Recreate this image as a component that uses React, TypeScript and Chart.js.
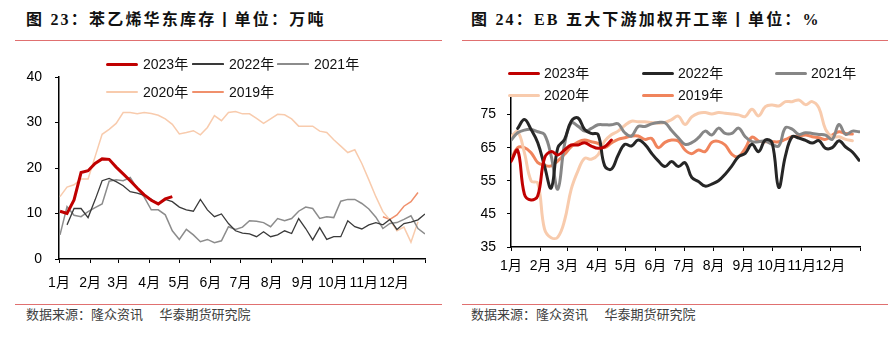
import React, { useEffect, useRef } from 'react';
import { Chart, registerables } from 'chart.js';

Chart.register(...registerables);

const FONT = '"Liberation Sans", "Noto Sans CJK SC", sans-serif';
const TITLE_FONT = '"Liberation Serif", "Noto Sans CJK SC", serif';

// ---------- shared axis data ----------
const monthLabels = ['1月', '2月', '3月', '4月', '5月', '6月', '7月', '8月', '9月', '10月', '11月', '12月'];
const monthStartDays = [0, 31, 59, 90, 120, 151, 181, 212, 243, 273, 304, 334, 365];
const yearLabels = ['2023年', '2022年', '2021年', '2020年', '2019年'];
const weekStep = 7;

// ---------- chart 23: 苯乙烯华东库存 (万吨), weekly ----------
const invTicks = [0, 10, 20, 30, 40];
const inv2023Start = 1;
const inv2023 = [10.5, 10.0, 13.0, 19.0, 19.4, 21.0, 22.0, 21.9, 20.2, 18.7, 17.2, 15.6, 14.1, 12.9, 12.1, 13.2, 13.7];
const inv2022Start = 8;
const inv2022 = [
  7.5, 11.1, 11.1, 9.1, 13.0, 17.2, 17.7, 17.0, 16.1, 14.8, 14.5, 14.0, 13.1, 12.1, 13.1, 12.6, 11.4, 10.8,
  10.5, 13.1, 10.8, 9.3, 9.9, 7.8, 6.2, 5.7, 5.5, 4.9, 6.0, 4.9, 5.3, 6.2, 5.6, 8.9, 6.7, 4.2, 6.9, 4.3,
  4.9, 4.9, 8.4, 7.1, 6.6, 7.5, 8.0, 7.5, 8.7, 6.5, 7.8, 8.1, 8.6, 9.9,
];
const inv2021Start = 1;
const inv2021 = [
  5.3, 11.5, 9.6, 9.3, 10.4, 11.3, 12.1, 17.1, 17.4, 17.2, 17.9, 15.5, 13.6, 10.8, 10.8, 9.7, 6.2, 4.3,
  6.5, 5.3, 3.8, 4.3, 3.6, 4.0, 7.1, 6.5, 7.0, 8.4, 8.3, 8.0, 7.1, 8.9, 8.4, 8.9, 10.5, 11.4, 11.1, 8.9,
  9.3, 9.1, 12.7, 13.1, 13.1, 12.2, 11.0, 9.2, 6.7, 7.8, 8.0, 8.7, 9.5, 6.7, 5.5,
];
const inv2020Start = 1;
const inv2020 = [
  13.7, 15.8, 16.3, 17.6, 17.6, 22.5, 27.4, 28.5, 29.8, 32.2, 32.2, 31.9, 32.2, 32.0, 31.6, 30.8, 29.6, 27.5,
  27.8, 28.2, 27.3, 28.9, 31.5, 30.4, 32.2, 32.4, 31.9, 31.9, 30.9, 29.8, 30.8, 31.8, 31.7, 30.8, 29.2, 29.2,
  29.2, 28.1, 27.8, 26.2, 24.8, 23.4, 24.0, 21.0, 17.4, 13.7, 10.4, 8.6, 6.2, 7.0, 3.7, 8.2,
];
const inv2019Start = 323;
const inv2019 = [9.3, 8.7, 9.7, 11.6, 12.6, 14.6];

// ---------- chart 24: EB 五大下游加权开工率 (%), weekly ----------
const rateTicks = [35, 45, 55, 65, 75];
const rate2023Start = 0;
const rate2023 = [60.8, 64.2, 51.0, 49.2, 50.5, 61.8, 63.8, 62.8, 64.3, 65.8, 65.8, 66.5, 65.5, 64.8, 65.3, 67.3];
const rate2022Start = 7;
const rate2022 = [
  70.8, 73.5, 70.5, 66.5, 59.5, 52.8, 65.0, 67.5, 73.0, 74.0, 70.5, 69.3, 69.0, 59.5, 58.5, 62.7, 66.0, 65.5,
  67.3, 66.0, 63.3, 61.0, 59.3, 60.8, 59.3, 60.5, 56.0, 54.8, 53.4, 54.0, 55.0, 57.0, 59.5, 62.3, 63.3, 66.0,
  63.8, 67.3, 66.5, 53.0, 62.5, 68.3, 67.9, 67.2, 66.4, 67.1, 64.8, 65.0, 67.1, 65.2, 63.7, 61.2,
];
const rate2021Start = 0;
const rate2021 = [
  67.2, 69.5, 70.3, 70.5, 69.8, 69.0, 62.5, 52.5, 66.0, 72.5, 71.5, 70.0, 70.8, 71.9, 71.9, 71.9, 72.2, 69.5,
  68.5, 71.4, 71.4, 72.2, 72.6, 72.5, 70.2, 68.0, 66.0, 66.5, 68.0, 70.0, 68.8, 70.9, 69.3, 69.3, 70.9, 68.3,
  66.8, 66.8, 67.0, 66.0, 65.5, 71.0, 70.6, 69.0, 69.5, 69.3, 69.0, 68.8, 67.5, 72.0, 69.0, 70.0, 69.8,
];
const rate2020Start = 0;
const rate2020 = [
  68.3, 69.8, 63.5, 55.0, 54.3, 40.5, 37.8, 38.0, 43.0, 52.5, 58.0, 61.8, 61.5, 62.8, 67.0, 68.9, 70.0, 71.7,
  73.0, 72.8, 72.8, 72.6, 72.4, 72.6, 73.5, 74.5, 72.0, 74.3, 75.4, 75.6, 75.2, 75.6, 75.4, 75.2, 74.9, 74.4,
  76.6, 74.6, 77.4, 77.9, 77.6, 78.9, 78.9, 79.4, 78.0, 78.9, 77.0, 70.5, 68.3, 68.3, 67.5, 67.1,
];
const rate2019Start = 0;
const rate2019 = [
  61.3, 65.0, 65.0, 63.5, 60.5, 59.7, 59.5, 61.0, 63.0, 65.3, 66.7, 67.3, 66.8, 66.3, 65.0, 66.4, 67.5, 68.0,
  68.5, 68.5, 67.5, 67.8, 65.0, 66.6, 67.3, 67.0, 64.3, 63.2, 64.3, 63.8, 66.6, 66.9, 65.8, 63.0, 62.3, 64.8,
  68.2, 67.0, 66.8, 66.8, 66.8, 67.5, 68.3, 68.5, 68.8, 68.3, 68.0, 67.5, 68.8, 69.8, 69.3, 69.1,
];

// ---------- styling ----------
const leftColors = ['#c00000', '#3a3a3a', '#8c8c8c', '#f8cbad', '#f0906c'];
const leftWidths = [3, 1.3, 1.5, 1.5, 1.5];
const rightColors = ['#c00000', '#262626', '#868686', '#f8cbad', '#f0845c'];
const rightWidths = [3, 3, 3, 3, 3];

const toPoints = (start: number, values: number[]) => values.map((v, i) => ({ x: start + i * weekStep, y: v }));

function makeOptions(o: {
  yMin: number; yMax: number; yTicks: number[]; yWidth: number; xHeight: number;
  pad: { top: number; right: number }; yPad: number; xPad: number; fontSize: number;
}) {
  return {
    responsive: false,
    animation: false as const,
    events: [] as any[],
    layout: { padding: { left: 0, top: o.pad.top, right: o.pad.right, bottom: 0 } },
    plugins: { legend: { display: false }, tooltip: { enabled: false } },
    elements: { point: { radius: 0 } },
    scales: {
      x: {
        type: 'linear' as const,
        min: 0,
        max: 365,
        afterBuildTicks: (s: any) => { s.ticks = monthStartDays.map((v) => ({ value: v })); },
        afterFit: (s: any) => { s.height = o.xHeight; },
        ticks: {
          autoSkip: false, maxRotation: 0, minRotation: 0, padding: o.xPad, color: '#000',
          font: { size: o.fontSize, family: FONT },
          callback: (_v: any, i: number) => monthLabels[i] ?? '',
        },
        grid: { drawOnChartArea: false, drawTicks: true, tickLength: 4, color: '#000', lineWidth: 1 },
        border: { display: true, color: '#000', width: 1.5 },
      },
      y: {
        type: 'linear' as const,
        min: o.yMin,
        max: o.yMax,
        afterBuildTicks: (s: any) => { s.ticks = o.yTicks.map((v) => ({ value: v })); },
        afterFit: (s: any) => { s.width = o.yWidth; },
        ticks: { padding: o.yPad, color: '#000', font: { size: o.fontSize, family: FONT } },
        grid: { drawOnChartArea: false, drawTicks: true, tickLength: 4, color: '#000', lineWidth: 1 },
        border: { display: true, color: '#000', width: 1.5 },
      },
    },
  };
}

function InventoryChart() {
  const ref = useRef<HTMLCanvasElement>(null);
  useEffect(() => {
    const series = [
      toPoints(inv2023Start, inv2023),
      toPoints(inv2022Start, inv2022),
      toPoints(inv2021Start, inv2021),
      toPoints(inv2020Start, inv2020),
      toPoints(inv2019Start, inv2019),
    ];
    const chart = new Chart(ref.current!, {
      type: 'line',
      data: {
        datasets: series.map((d, i) => ({
          label: yearLabels[i], data: d, borderColor: leftColors[i], backgroundColor: leftColors[i],
          borderWidth: leftWidths[i], tension: 0, pointRadius: 0, fill: false,
        })),
      },
      options: makeOptions({
        yMin: 0, yMax: 40, yTicks: invTicks, yWidth: 59, xHeight: 41,
        pad: { top: 22, right: 20 }, yPad: 13, xPad: 12, fontSize: 14,
      }) as any,
    });
    return () => chart.destroy();
  }, []);
  return <canvas ref={ref} width={445} height={245} style={{ position: 'absolute', left: 0, top: 55, width: 445, height: 245 }} />;
}

function RateChart() {
  const ref = useRef<HTMLCanvasElement>(null);
  useEffect(() => {
    const series = [
      toPoints(rate2023Start, rate2023),
      toPoints(rate2022Start, rate2022),
      toPoints(rate2021Start, rate2021),
      toPoints(rate2020Start, rate2020),
      toPoints(rate2019Start, rate2019),
    ];
    const chart = new Chart(ref.current!, {
      type: 'line',
      data: {
        datasets: series.map((d, i) => ({
          label: yearLabels[i], data: d, borderColor: rightColors[i], backgroundColor: rightColors[i],
          borderWidth: rightWidths[i], tension: 0.4, pointRadius: 0, fill: false,
          borderCapStyle: 'round' as const, borderJoinStyle: 'round' as const,
        })),
      },
      options: makeOptions({
        yMin: 35, yMax: 80, yTicks: rateTicks, yWidth: 66, xHeight: 53,
        pad: { top: 43, right: 33 }, yPad: 11, xPad: 7, fontSize: 14,
      }) as any,
    });
    return () => chart.destroy();
  }, []);
  return <canvas ref={ref} width={448} height={245} style={{ position: 'absolute', left: 445, top: 55, width: 448, height: 245 }} />;
}

function Legend(props: { cols: number[]; rows: number[]; colors: string[]; widths: number[]; lineLen: number; gap: number }) {
  const items = yearLabels.map((label, i) => {
    const col = i % 3;
    const row = Math.floor(i / 3);
    const x = props.cols[col];
    const y = props.rows[row];
    const w = props.widths[i];
    return (
      <React.Fragment key={label}>
        <div style={{ position: 'absolute', left: x, top: y - w / 2, width: props.lineLen, height: w, background: props.colors[i], borderRadius: w / 2 }} />
        <div style={{ position: 'absolute', left: x + props.lineLen + props.gap, top: y - 9, height: 18, lineHeight: '18px', fontSize: 14, fontFamily: FONT, color: '#111', whiteSpace: 'nowrap' }}>{label}</div>
      </React.Fragment>
    );
  });
  return <>{items}</>;
}

const titleStyle: React.CSSProperties = {
  position: 'absolute', top: 9, fontFamily: TITLE_FONT, fontWeight: 'bold', fontSize: 16,
  letterSpacing: 2.2, lineHeight: '22px', color: '#111', whiteSpace: 'nowrap',
};
const sourceStyle: React.CSSProperties = {
  position: 'absolute', top: 307, fontFamily: FONT, fontSize: 13, lineHeight: '16px', color: '#404040', whiteSpace: 'pre',
};
const ruleColor = '#e07070';

export default function App() {
  return (
    <div style={{ position: 'absolute', left: 0, top: 0, width: 893, height: 341, background: '#fff', overflow: 'hidden' }}>
      <div style={{ ...titleStyle, left: 26 }}>图 23：苯乙烯华东库存丨单位：万吨</div>
      <div style={{ ...titleStyle, left: 471 }}>图 24：EB 五大下游加权开工率丨单位：%</div>
      <div style={{ position: 'absolute', left: 15, top: 40, width: 427, height: 1, background: ruleColor }} />
      <div style={{ position: 'absolute', left: 462, top: 40, width: 426, height: 1, background: ruleColor }} />
      <InventoryChart />
      <RateChart />
      <Legend cols={[106, 192, 277]} rows={[64, 92]} colors={leftColors} widths={[3, 1.2, 1.2, 2, 2]} lineLen={32} gap={5} />
      <Legend cols={[508, 642, 775]} rows={[73, 95]} colors={rightColors} widths={[3, 3, 3, 3, 3]} lineLen={32} gap={4} />
      <div style={{ position: 'absolute', left: 15, top: 304, width: 427, height: 1, background: ruleColor }} />
      <div style={{ position: 'absolute', left: 462, top: 304, width: 426, height: 1, background: ruleColor }} />
      <div style={{ ...sourceStyle, left: 26 }}>{'数据来源：隆众资讯　 华泰期货研究院'}</div>
      <div style={{ ...sourceStyle, left: 471 }}>{'数据来源：隆众资讯　 华泰期货研究院'}</div>
    </div>
  );
}
